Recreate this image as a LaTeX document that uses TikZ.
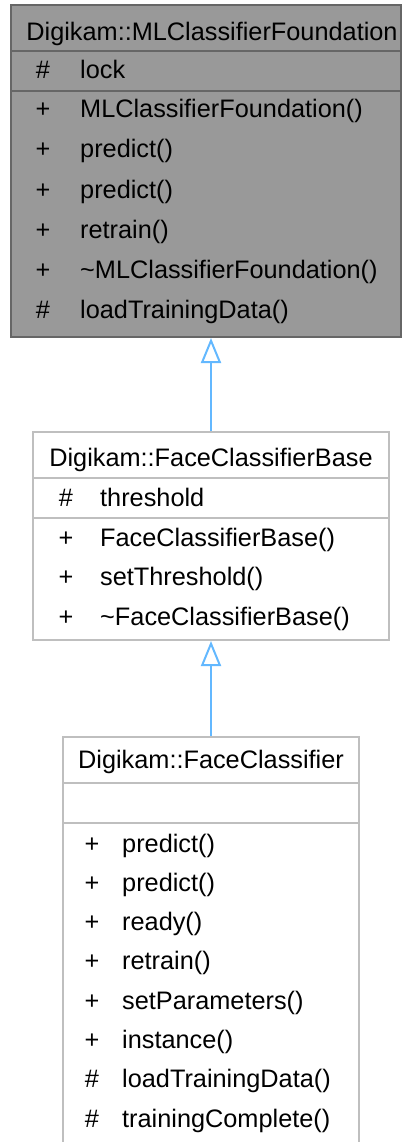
\documentclass[tikz,border=0pt]{standalone}
\usepackage{fontspec}
\setmainfont{Liberation Sans}
\usetikzlibrary{arrows.meta}
\definecolor{darkfill}{HTML}{999999}
\definecolor{darkline}{HTML}{666666}
\definecolor{lightline}{HTML}{BFBFBF}
\definecolor{edgeblue}{HTML}{63B8FF}
\tikzset{
  darkbox/.style={draw=darkline, fill=darkfill, line width=2pt, rectangle, inner sep=0pt},
  lightbox/.style={draw=lightline, fill=white, line width=2pt, rectangle, inner sep=0pt},
  darksep/.style={draw=darkline, line width=2pt},
  lightsep/.style={draw=lightline, line width=2pt},
  ttl/.style={font=\fontsize{25.3}{30}\selectfont, inner sep=0pt, anchor=base},
  vis/.style={font=\fontsize{25.3}{30}\selectfont, inner sep=0pt, anchor=base},
  mem/.style={font=\fontsize{25.3}{30}\selectfont, inner sep=0pt, anchor=base west},
  inherit/.style={draw=edgeblue, line width=2pt, -{Triangle[open, length=25pt, width=20pt, line width=2pt]}}
}
\begin{document}
\begin{tikzpicture}[x=1pt,y=-1pt]
\useasboundingbox (0,0) rectangle (403,1142);
\clip (0,0) rectangle (403,1142);
% ---------- top class ----------
\node[darkbox, minimum width=390pt, minimum height=332pt] (top) at (206,171) {};
\draw[darksep] (top.west |- 0,51) -- (top.east |- 0,51);
\draw[darksep] (top.west |- 0,91) -- (top.east |- 0,91);
\node[ttl] (topt) at (212,40.5) {Digikam::MLClassifierFoundation};
\node[vis] (tv1) at (43,79) {\#};   \node[mem] (tm1) at (80,79) {lock};
\node[vis] (tv2) at (43,118) {+};   \node[mem] (tm2) at (80,118) {MLClassifierFoundation()};
\node[vis] (tv3) at (43,158) {+};   \node[mem] (tm3) at (80,158) {predict()};
\node[vis] (tv4) at (43,198) {+};   \node[mem] (tm4) at (80,198) {predict()};
\node[vis] (tv5) at (43,238) {+};   \node[mem] (tm5) at (80,238) {retrain()};
\node[vis] (tv6) at (43,278) {+};   \node[mem] (tm6) at (80,278) {\char"7E MLClassifierFoundation()};
\node[vis] (tv7) at (43,318) {\#};  \node[mem] (tm7) at (80,318) {loadTrainingData()};
% ---------- middle class ----------
\node[lightbox, minimum width=356pt, minimum height=208pt] (mid) at (211,536) {};
\draw[lightsep] (mid.west |- 0,478) -- (mid.east |- 0,478);
\draw[lightsep] (mid.west |- 0,518) -- (mid.east |- 0,518);
\node[ttl] (midt) at (211,466) {Digikam::FaceClassifierBase};
\node[vis] (mv1) at (66,506) {\#};   \node[mem] (mm1) at (100,506) {threshold};
\node[vis] (mv2) at (66,546) {+};    \node[mem] (mm2) at (100,546) {FaceClassifierBase()};
\node[vis] (mv3) at (66,585.5) {+};  \node[mem] (mm3) at (100,585.5) {setThreshold()};
\node[vis] (mv4) at (66,625) {+};    \node[mem] (mm4) at (100,625) {\char"7E FaceClassifierBase()};
% ---------- bottom class ----------
\node[lightbox, minimum width=296pt, minimum height=433pt] (bot) at (211,953.5) {};
\draw[lightsep] (bot.west |- 0,783) -- (bot.east |- 0,783);
\draw[lightsep] (bot.west |- 0,823) -- (bot.east |- 0,823);
\node[ttl] (bott) at (211,768) {Digikam::FaceClassifier};
\node[vis] (bv1) at (92,852)    {+};  \node[mem] (bm1) at (122,852)    {predict()};
\node[vis] (bv2) at (92,891.3)  {+};  \node[mem] (bm2) at (122,891.3)  {predict()};
\node[vis] (bv3) at (92,930.6)  {+};  \node[mem] (bm3) at (122,930.6)  {ready()};
\node[vis] (bv4) at (92,969.9)  {+};  \node[mem] (bm4) at (122,969.9)  {retrain()};
\node[vis] (bv5) at (92,1009.2) {+};  \node[mem] (bm5) at (122,1009.2) {setParameters()};
\node[vis] (bv6) at (92,1048.5) {+};  \node[mem] (bm6) at (122,1048.5) {instance()};
\node[vis] (bv7) at (92,1087.8) {\#}; \node[mem] (bm7) at (122,1087.8) {loadTrainingData()};
\node[vis] (bv8) at (92,1127.1) {\#}; \node[mem] (bm8) at (122,1127.1) {trainingComplete()};
% ---------- inheritance ----------
\draw[inherit] (mid.north) -- (mid.north |- top.south);
\draw[inherit] (bot.north) -- (mid.south);
\end{tikzpicture}
\end{document}
